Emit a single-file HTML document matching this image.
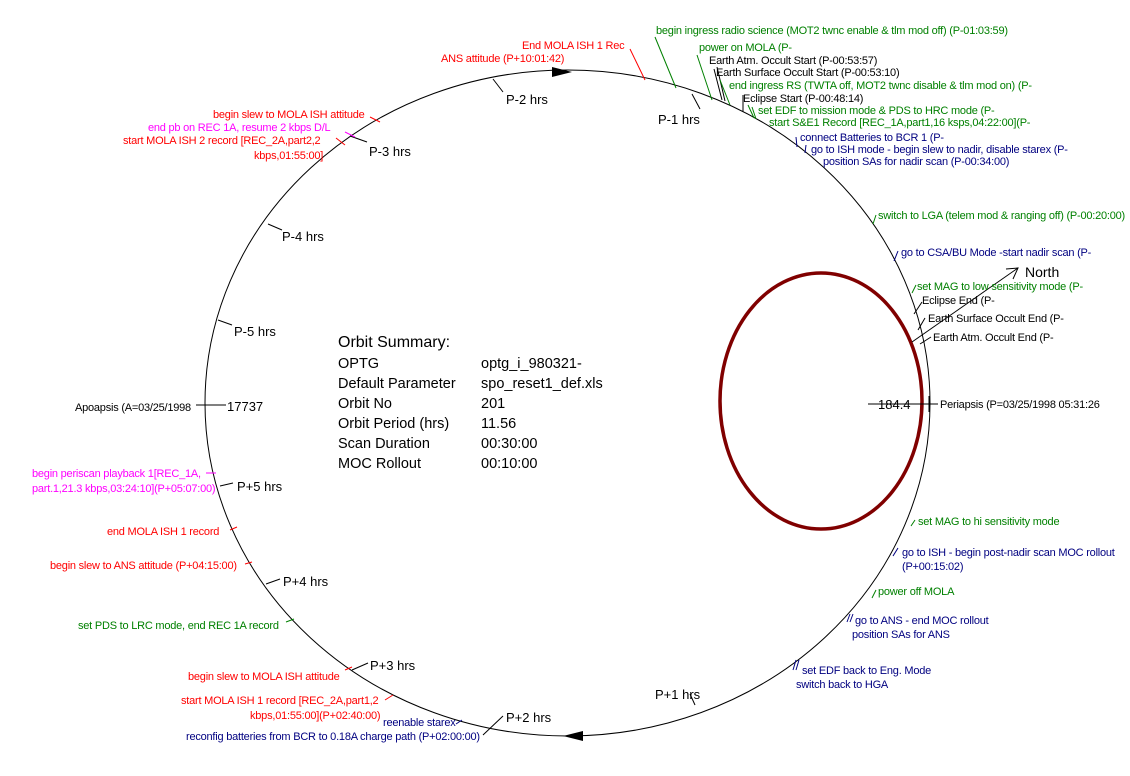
<!DOCTYPE html>
<html><head><meta charset="utf-8"><style>
html,body{margin:0;padding:0;background:#fff;}
svg{display:block;font-family:"Liberation Sans",Arial,sans-serif;}
.s{font-size:11px;letter-spacing:-0.22px;}
.h{font-size:13px;}
.g{fill:#008000}.b{fill:#000080}.r{fill:#ff0000}.m{fill:#ff00ff}.k{fill:#000}
.sum{font-size:14.5px;}
</style></head><body>
<svg width="1130" height="776" viewBox="0 0 1130 776">
<ellipse cx="567.5" cy="403" rx="362.5" ry="333" fill="none" stroke="#000" stroke-width="1"/>
<ellipse cx="821" cy="401" rx="101" ry="128" fill="none" stroke="#800000" stroke-width="3.5"/>
<polygon points="552,67 572,72 552,77" fill="#000"/>
<polygon points="583,731 563,736 583,741" fill="#000"/>
<line x1="912" y1="342" x2="1018" y2="268" stroke="#000"/>
<polyline points="1006,269 1018,268 1013,279" fill="none" stroke="#000"/>
<g stroke="#000">
<line x1="692" y1="94" x2="700" y2="109"/>
<line x1="493" y1="79" x2="503" y2="92"/>
<line x1="350" y1="136" x2="367" y2="142"/>
<line x1="268" y1="224" x2="282" y2="230"/>
<line x1="218" y1="320" x2="232" y2="325"/>
<line x1="196" y1="405" x2="226" y2="405"/>
<line x1="220" y1="486" x2="233" y2="483"/>
<line x1="266" y1="584" x2="280" y2="579"/>
<line x1="352" y1="670" x2="368" y2="663"/>
<line x1="483" y1="735" x2="503" y2="716"/>
<line x1="690" y1="694" x2="695" y2="705"/>
<line x1="868" y1="404" x2="938" y2="404"/>
<line x1="929" y1="396" x2="929" y2="412"/>
<line x1="714" y1="69" x2="722" y2="100"/>
<line x1="717" y1="67" x2="725" y2="101"/>
<line x1="743" y1="95" x2="743" y2="112"/>
<line x1="914" y1="314" x2="922" y2="302"/>
<line x1="918" y1="330" x2="925" y2="318"/>
<line x1="920" y1="344" x2="931" y2="337"/>
</g>
<g stroke="#ff0000">
<line x1="630" y1="49" x2="645" y2="80"/>
<line x1="370" y1="117" x2="380" y2="122"/>
<line x1="336" y1="138" x2="345" y2="145"/>
<line x1="230" y1="530" x2="237" y2="527"/>
<line x1="245" y1="564" x2="252" y2="562"/>
<line x1="345" y1="670" x2="352" y2="667"/>
<line x1="385" y1="700" x2="393" y2="695"/>
</g>
<g stroke="#ff00ff"><line x1="345" y1="132" x2="355" y2="137"/><line x1="206" y1="473" x2="216" y2="473"/></g>
<g stroke="#008000">
<line x1="655" y1="37" x2="676" y2="88"/>
<line x1="697" y1="55" x2="712" y2="100"/>
<line x1="720" y1="80" x2="730" y2="105"/>
<line x1="748" y1="105" x2="754" y2="118"/>
<line x1="752" y1="107" x2="756" y2="119"/>
<line x1="876" y1="215" x2="873" y2="224"/>
<line x1="916" y1="285" x2="912" y2="293"/>
<line x1="915" y1="520" x2="911" y2="526"/>
<line x1="876" y1="590" x2="872" y2="598"/>
<line x1="286" y1="622" x2="294" y2="619"/>
</g>
<g stroke="#000080">
<line x1="796" y1="137" x2="797" y2="147"/>
<line x1="806" y1="145" x2="805" y2="153"/>
<line x1="898" y1="251" x2="894" y2="261"/>
<line x1="898" y1="548" x2="893" y2="556"/>
<line x1="850" y1="614" x2="847" y2="622"/>
<line x1="853" y1="614" x2="850" y2="622"/>
<line x1="796" y1="660" x2="793" y2="670"/>
<line x1="799" y1="660" x2="796" y2="670"/>
<line x1="456" y1="724" x2="462" y2="720"/>
</g>
<text class="s r" x="522" y="49">End MOLA ISH 1 Rec</text>
<text class="s r" x="441" y="62">ANS attitude (P+10:01:42)</text>
<text class="s g" x="656" y="34">begin ingress radio science (MOT2 twnc enable &amp; tlm mod off) (P-01:03:59)</text>
<text class="s g" x="699" y="51">power on MOLA (P-</text>
<text class="s k" x="709" y="64">Earth Atm. Occult Start (P-00:53:57)</text>
<text class="s k" x="716" y="76">Earth Surface Occult Start (P-00:53:10)</text>
<text class="s g" x="729" y="89">end ingress RS (TWTA off, MOT2 twnc disable &amp; tlm mod on) (P-</text>
<text class="s k" x="743" y="102">Eclipse Start (P-00:48:14)</text>
<text class="s g" x="758" y="114">set EDF to mission mode &amp; PDS to HRC mode (P-</text>
<text class="s g" x="769" y="126">start S&amp;E1 Record [REC_1A,part1,16 ksps,04:22:00](P-</text>
<text class="s b" x="800" y="141">connect Batteries to BCR  1 (P-</text>
<text class="s b" x="811" y="153">go to ISH mode - begin slew to nadir, disable starex (P-</text>
<text class="s b" x="823" y="165">position SAs for nadir scan (P-00:34:00)</text>
<text class="h k" x="658" y="124">P-1 hrs</text>
<text class="h k" x="506" y="104">P-2 hrs</text>
<text class="h k" x="369" y="156">P-3 hrs</text>
<text class="h k" x="282" y="241">P-4 hrs</text>
<text class="h k" x="234" y="336">P-5 hrs</text>
<text class="h k" x="237" y="491">P+5 hrs</text>
<text class="h k" x="283" y="586">P+4 hrs</text>
<text class="h k" x="370" y="670">P+3 hrs</text>
<text class="h k" x="506" y="722">P+2 hrs</text>
<text class="h k" x="655" y="699">P+1 hrs</text>
<text class="s g" x="878" y="219">switch to LGA (telem mod &amp; ranging off) (P-00:20:00)</text>
<text class="s b" x="901" y="256">go to CSA/BU Mode -start nadir scan (P-</text>
<text class="k" x="1025" y="277" font-size="14">North</text>
<text class="s g" x="917" y="290">set MAG to low sensitivity mode (P-</text>
<text class="s k" x="922" y="304">Eclipse End (P-</text>
<text class="s k" x="928" y="322">Earth Surface Occult End (P-</text>
<text class="s k" x="933" y="341">Earth Atm. Occult End (P-</text>
<text class="h k" x="878" y="409">184.4</text>
<text class="s k" x="940" y="408">Periapsis (P=03/25/1998 05:31:26</text>
<text class="s g" x="918" y="525">set MAG to hi sensitivity mode</text>
<text class="s b" x="902" y="556">go to ISH - begin post-nadir scan MOC rollout</text>
<text class="s b" x="902" y="570">(P+00:15:02)</text>
<text class="s g" x="878" y="595">power off MOLA</text>
<text class="s b" x="855" y="624">go to ANS - end MOC rollout</text>
<text class="s b" x="852" y="638">position SAs for ANS</text>
<text class="s b" x="802" y="674">set EDF back to Eng. Mode</text>
<text class="s b" x="796" y="688">switch back to HGA</text>
<text class="s b" x="383" y="726">reenable starex</text>
<text class="s b" x="186" y="740">reconfig batteries from BCR to 0.18A charge path (P+02:00:00)</text>
<text class="s r" x="181" y="704">start MOLA ISH 1 record  [REC_2A,part1,2</text>
<text class="s r" x="250" y="719">kbps,01:55:00](P+02:40:00)</text>
<text class="s r" x="188" y="680">begin slew to MOLA ISH attitude</text>
<text class="s g" x="78" y="629">set PDS to LRC mode, end REC  1A record</text>
<text class="s r" x="50" y="569">begin slew to ANS attitude (P+04:15:00)</text>
<text class="s r" x="107" y="535">end MOLA ISH 1 record</text>
<text class="s m" x="32" y="477">begin periscan playback 1[REC_1A,</text>
<text class="s m" x="32" y="492">part.1,21.3 kbps,03:24:10](P+05:07:00)</text>
<text class="s k" x="75" y="411">Apoapsis (A=03/25/1998</text>
<text class="h k" x="227" y="411">17737</text>
<text class="s r" x="213" y="118">begin slew to MOLA ISH attitude</text>
<text class="s m" x="148" y="131">end pb on REC  1A, resume 2 kbps D/L</text>
<text class="s r" x="123" y="144">start MOLA ISH 2 record  [REC_2A,part2,2</text>
<text class="s r" x="254" y="159">kbps,01:55:00]</text>
<text class="k" x="338" y="347" font-size="16">Orbit Summary:</text>
<g class="sum k">
<text x="338" y="368">OPTG</text><text x="481" y="368">optg_i_980321-</text>
<text x="338" y="388">Default Parameter</text><text x="481" y="388">spo_reset1_def.xls</text>
<text x="338" y="408">Orbit No</text><text x="481" y="408">201</text>
<text x="338" y="428">Orbit Period (hrs)</text><text x="481" y="428">11.56</text>
<text x="338" y="448">Scan Duration</text><text x="481" y="448">00:30:00</text>
<text x="338" y="468">MOC Rollout</text><text x="481" y="468">00:10:00</text>
</g>
</svg>
</body></html>
